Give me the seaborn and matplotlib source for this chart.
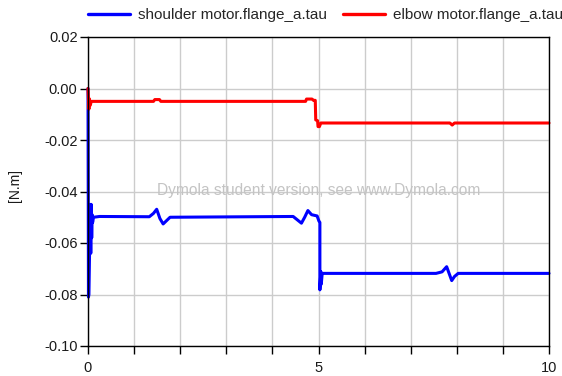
import matplotlib
matplotlib.use("Agg")
import matplotlib.pyplot as plt
import seaborn as sns
import pandas as pd
import numpy as np

# Simulation results: motor flange torques [N.m] over time [s]
shoulder_t = [0.0, 0.01, 0.02, 0.05, 0.06, 0.07, 0.08, 0.09, 0.10, 0.12, 0.25,
              1.33, 1.42, 1.49, 1.56, 1.63, 1.78, 4.45, 4.63, 4.70, 4.77, 4.85,
              4.97, 5.01, 5.03, 5.03, 5.05, 5.06, 5.08, 5.12, 7.55, 7.68, 7.78,
              7.89, 7.95, 8.03, 10.0]
shoulder_tau = [0.0, -0.081, -0.080, -0.045, -0.064, -0.045, -0.058, -0.049,
                -0.052, -0.050, -0.0497, -0.0498, -0.0485, -0.0469, -0.0505,
                -0.0526, -0.0500, -0.0497, -0.0523, -0.0500, -0.0474, -0.0490,
                -0.0495, -0.0515, -0.0520, -0.0782, -0.0711, -0.0760, -0.0718,
                -0.0718, -0.0718, -0.0712, -0.0692, -0.0746, -0.0730, -0.0718,
                -0.0718]

elbow_t = [0.0, 0.02, 0.03, 0.05, 0.07, 0.12, 1.42, 1.45, 1.55, 1.58, 4.72,
           4.74, 4.86, 4.89, 4.93, 4.94, 4.98, 4.99, 5.02, 5.05, 7.85, 7.90,
           7.95, 10.0]
elbow_tau = [0.0, -0.008, -0.004, -0.0065, -0.005, -0.005, -0.005, -0.0043,
             -0.0043, -0.005, -0.005, -0.0041, -0.0041, -0.0046, -0.0046,
             -0.0122, -0.0125, -0.0148, -0.0148, -0.0134, -0.0134, -0.0142,
             -0.0134, -0.0134]

series_names = ["shoulder motor.flange_a.tau", "elbow motor.flange_a.tau"]
series_colors = ["#0000ff", "#ff0000"]

y_ticks = [0.02, 0.00, -0.02, -0.04, -0.06, -0.08, -0.10]
x_major = [0, 5, 10]

df = pd.concat([
    pd.DataFrame({"time": shoulder_t, "tau": shoulder_tau, "signal": series_names[0]}),
    pd.DataFrame({"time": elbow_t, "tau": elbow_tau, "signal": series_names[1]}),
], ignore_index=True)

sns.set_theme(style="white")
plt.rcParams["font.family"] = ["Liberation Sans", "DejaVu Sans"]

fig = plt.figure(figsize=(5.62, 3.76), dpi=100)
ax = fig.add_axes([88 / 562, 1 - 346 / 376, (549 - 88) / 562, (346 - 37) / 376])

sns.lineplot(data=df, x="time", y="tau", hue="signal", palette=series_colors,
             hue_order=series_names, estimator=None, sort=False,
             linewidth=2.2, ax=ax, legend=False, clip_on=False)

ax.set_xlim(0, 10)
ax.set_ylim(-0.10, 0.02)
ax.set_xticks(np.arange(0, 11, 1))
ax.set_xticklabels([str(v) if v in x_major else "" for v in range(11)])
ax.set_yticks(y_ticks)
ax.set_yticklabels([f"{v:.2f}" for v in y_ticks])
ax.grid(True, color="#cccccc", linewidth=1.0)
ax.set_axisbelow(True)
for s in ax.spines.values():
    s.set_color("black")
    s.set_linewidth(1.0)
ax.tick_params(axis="both", which="both", direction="out", length=5.5, width=1,
               color="black", labelsize=10.5, labelcolor="#1a1a1a",
               bottom=True, left=True)
ax.tick_params(axis="y", pad=2)
ax.tick_params(axis="x", pad=5)
ax.set_xlabel("")
ax.set_ylabel("[N.m]", fontsize=10, color="#1a1a1a")
ax.yaxis.set_label_coords((22 - 88) / 461, (346 - 185) / 309)

ax.text(5, -0.0398, "Dymola student version, see www.Dymola.com",
        ha="center", va="center", fontsize=11.2, color="#c4c4c4", zorder=1)

handles = [plt.Line2D([], [], color=c, linewidth=2.4) for c in series_colors]
fig.legend(handles, series_names, loc="center left",
           bbox_to_anchor=(88 / 562, 1 - 15 / 376),
           ncol=2, frameon=False, fontsize=11, handlelength=2.75,
           handletextpad=0.52, columnspacing=1.05, borderpad=0,
           borderaxespad=0)

fig.savefig("out.png", dpi=100)
